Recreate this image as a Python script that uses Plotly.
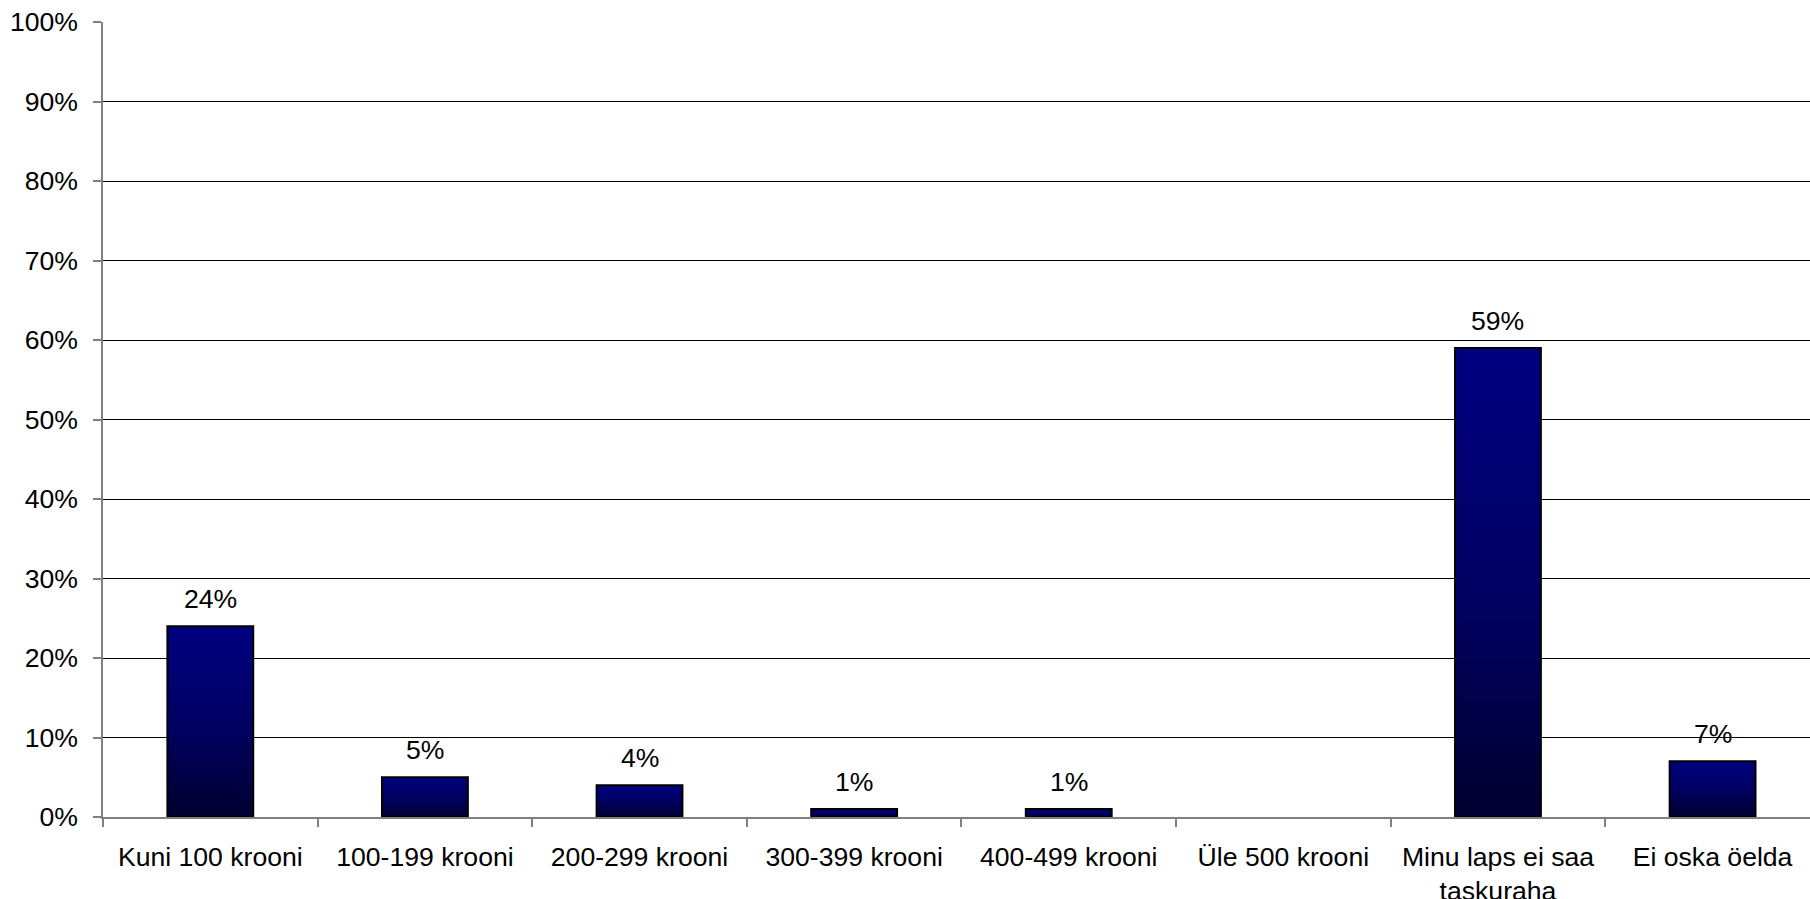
import plotly.graph_objects as go

categories = [
    "Kuni 100 krooni",
    "100-199 krooni",
    "200-299 krooni",
    "300-399 krooni",
    "400-499 krooni",
    "Üle 500 krooni",
    "Minu laps ei saa<br>taskuraha",
    "Ei oska öelda",
]
values = [24, 5, 4, 1, 1, None, 59, 7]
value_labels = ["24%", "5%", "4%", "1%", "1%", "", "59%", "7%"]
y_ticks = [0, 10, 20, 30, 40, 50, 60, 70, 80, 90, 100]
y_tick_labels = [f"{t}%" for t in y_ticks]

BAR_W = 0.4
FONT = dict(family="Liberation Sans, Arial, sans-serif", size=26.6, color="black")
AXIS_GRAY = "#808080"

fig = go.Figure()

for i, v in enumerate(values):
    if v is None:
        continue
    xs = [i - BAR_W / 2, i + BAR_W / 2, i + BAR_W / 2, i - BAR_W / 2, i - BAR_W / 2]
    ys = [0, 0, v, v, 0]
    fig.add_trace(
        go.Scatter(
            x=xs,
            y=ys,
            mode="lines",
            fill="toself",
            line=dict(color="black", width=2),
            fillgradient=dict(
                type="vertical",
                colorscale=[[0, "#000030"], [0.45, "#000060"], [1, "#000080"]],
            ),
            hoverinfo="skip",
            showlegend=False,
        )
    )

annotations = []
for i, (v, lab) in enumerate(zip(values, value_labels)):
    if v is None or not lab:
        continue
    annotations.append(
        dict(
            x=i, y=v, xref="x", yref="y", text=lab, showarrow=False,
            yanchor="bottom", yshift=10, font=FONT,
        )
    )

n = len(categories)
fig.update_layout(
    width=1810,
    height=899,
    margin=dict(l=103, r=0, t=22, b=82, autoexpand=False),
    paper_bgcolor="white",
    plot_bgcolor="white",
    font=FONT,
    showlegend=False,
    annotations=annotations,
    xaxis=dict(
        range=[-0.5, n - 0.546],
        tickmode="array",
        tickvals=list(range(n)),
        ticktext=categories,
        ticks="",
        showline=True,
        linecolor=AXIS_GRAY,
        linewidth=1.5,
        showgrid=False,
        zeroline=False,
        tickangle=0,
        minor=dict(
            tickmode="array",
            tickvals=[k - 0.5 for k in range(n)],
            ticks="outside",
            ticklen=8,
            tickcolor=AXIS_GRAY,
            tickwidth=1.5,
            showgrid=False,
        ),
        ticklabelstandoff=15,
    ),
    yaxis=dict(
        range=[0, 100],
        tickmode="array",
        tickvals=y_ticks,
        ticktext=y_tick_labels,
        ticks="outside",
        ticklen=8,
        tickcolor=AXIS_GRAY,
        tickwidth=1.5,
        showline=True,
        linecolor=AXIS_GRAY,
        linewidth=1.5,
        showgrid=True,
        gridcolor="black",
        gridwidth=1,
        zeroline=False,
        ticklabelstandoff=10,
    ),
)

fig.write_html(
    "out.html",
    config={"displayModeBar": False},
    post_script="document.body.style.margin='0';document.body.style.padding='0';",
)
